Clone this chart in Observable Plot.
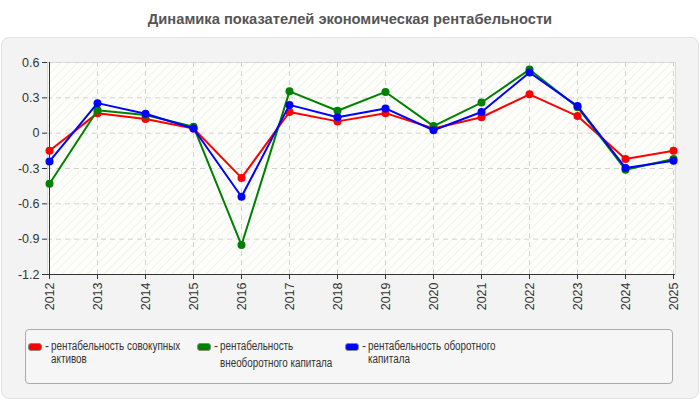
<!DOCTYPE html>
<html><head><meta charset="utf-8">
<script src="https://cdn.jsdelivr.net/npm/d3@7"></script>
<script src="https://cdn.jsdelivr.net/npm/@observablehq/plot@0.6"></script>
<style>
body{margin:0;background:#fff;font-family:"Liberation Sans",Arial,sans-serif;width:700px;height:400px;position:relative;overflow:hidden}
#title{position:absolute;top:11px;left:0;width:700px;text-align:center;font-weight:bold;font-size:14.7px;color:#555}
#panel{position:absolute;left:1px;top:37px;width:696px;height:360px;background:#f3f3f3;border:1px solid #e2e2e2;border-radius:8px}
#chart{position:absolute;left:0;top:37px}
#legend{position:absolute;left:25px;top:329px;width:646px;height:53px;border:1px solid #aaa;border-radius:4px;background:#f6f6f6}
.item{position:absolute;top:10px;font-size:12px;color:#333;line-height:12.5px}
.sw{position:absolute;left:0;top:3px;width:14px;height:8px;border-radius:3px;border:0.5px solid #888;box-sizing:border-box}
.dash{position:absolute;left:17px;top:0px}
.txt{position:absolute;left:23px;top:0px;white-space:nowrap;transform:scaleX(0.82);transform-origin:left top}
</style></head>
<body>
<div id="title">Динамика показателей экономическая рентабельности</div>
<div id="panel"></div>
<div id="chart"></div>
<div id="legend"></div>
<script>
const years = ["2012","2013","2014","2015","2016","2017","2018","2019","2020","2021","2022","2023","2024","2025"];
const seriesNames = ["рентабельность совокупных активов","рентабельность внеоборотного капитала","рентабельность оборотного капитала"];
const seriesColors = ["#ff0000","#008000","#0000ff"];
const assets = [-0.15, 0.17, 0.12, 0.04, -0.38, 0.18, 0.10, 0.17, 0.04, 0.135, 0.33, 0.145, -0.22, -0.15];
const fixedCap = [-0.43, 0.195, 0.155, 0.055, -0.95, 0.355, 0.19, 0.35, 0.06, 0.26, 0.54, 0.22, -0.31, -0.22];
const workingCap = [-0.24, 0.255, 0.165, 0.04, -0.54, 0.24, 0.135, 0.21, 0.025, 0.18, 0.515, 0.23, -0.295, -0.235];
const yTicks = [0.6, 0.3, 0, -0.3, -0.6, -0.9, -1.2];

const allSeries = [assets, fixedCap, workingCap];
const data = [];
allSeries.forEach((vals, si) => vals.forEach((v, i) => data.push({year: years[i], value: v, s: seriesNames[si]})));

const marks = [
  Plot.frame({fill: "url(#hatch)", stroke: "#dcdcdc"}),
  Plot.gridY(yTicks, {stroke: "#d2d2d2", strokeOpacity: 1, strokeDasharray: "5,4"}),
  Plot.gridX(years, {stroke: "#d2d2d2", strokeOpacity: 1, strokeDasharray: "5,4"}),
  Plot.axisY(yTicks, {tickSize: 5, tickPadding: 3, fontSize: 12.5, fill: "#333", stroke: "#333",
    tickFormat: d => String(Math.round(d * 10) / 10)}),
  Plot.axisX(years, {tickSize: 5, tickPadding: 3, fontSize: 12.5, fill: "#333", stroke: "#333", tickRotate: -90}),
  Plot.ruleY([-1.2], {stroke: "#333"}),
  Plot.ruleX(["2012"], {stroke: "#333"})
];
seriesNames.forEach((name, si) => {
  const d = data.filter(r => r.s === name);
  marks.push(Plot.line(d, {x: "year", y: "value", stroke: seriesColors[si], strokeWidth: 2}));
  marks.push(Plot.dot(d, {x: "year", y: "value", fill: seriesColors[si], r: 4}));
});

const chart = Plot.plot({
  width: 700, height: 290,
  marginLeft: 47, marginRight: 25, marginTop: 25, marginBottom: 53,
  style: {background: "transparent", fontFamily: "'Liberation Sans', Arial, sans-serif", fontSize: "12px"},
  x: {type: "point", domain: years, padding: 0, label: null},
  y: {domain: [-1.2, 0.6], label: null},
  marks
});
const ns = "http://www.w3.org/2000/svg";
const defs = document.createElementNS(ns, "defs");
defs.innerHTML = `<pattern id="hatch" patternUnits="userSpaceOnUse" width="6" height="6" patternTransform="rotate(45)">
<rect width="6" height="6" fill="#fefefa"/><line x1="0" y1="0" x2="0" y2="6" stroke="#eeeeee" stroke-width="1.5"/></pattern>`;
chart.insertBefore(defs, chart.firstChild);
document.getElementById("chart").appendChild(chart);

const leg = document.getElementById("legend");
const lx = [2, 171, 319];
const lines = [["рентабельность совокупных","активов"],["рентабельность","внеоборотного капитала"],["рентабельность оборотного","капитала"]];
seriesNames.forEach((n, i) => {
  const it = document.createElement("div");
  it.className = "item";
  it.style.left = lx[i] + "px";
  it.innerHTML = `<div class="sw" style="background:${seriesColors[i]}"></div><span class="dash">-</span>
  <div class="txt">${lines[i][0]}<br><span style="display:inline-block;margin-top:${i===1?4:0}px">${lines[i][1]}</span></div>`;
  leg.appendChild(it);
});
</script>
</body></html>
